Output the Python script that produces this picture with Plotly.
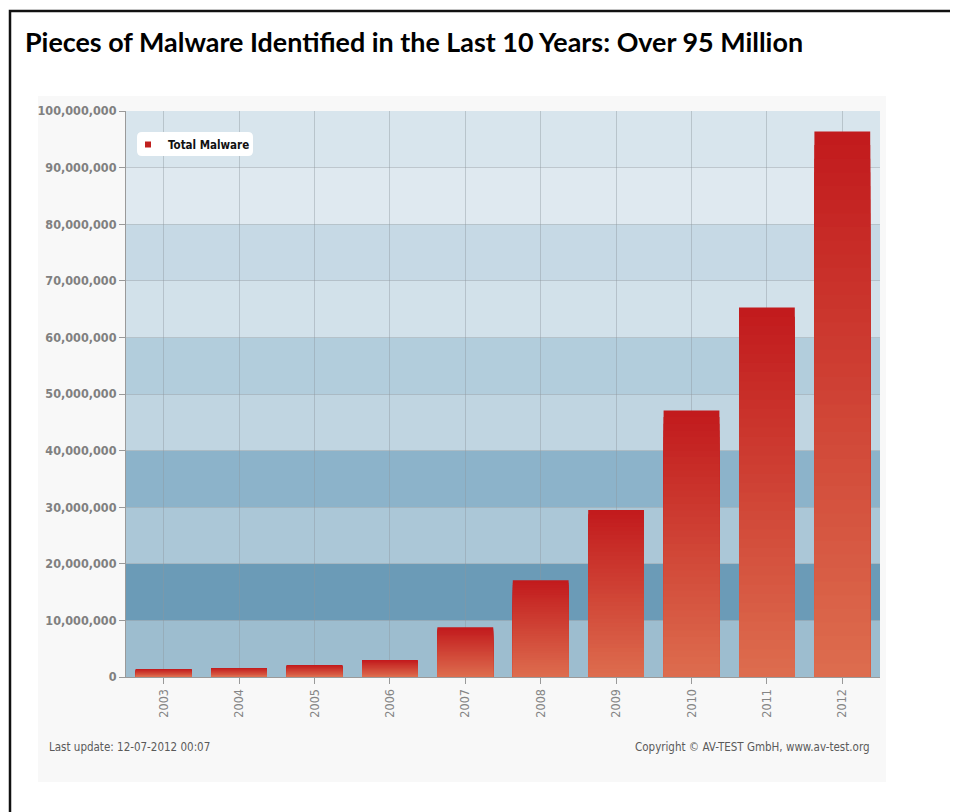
import plotly.graph_objects as go

# ---- data ----
years = ["2003", "2004", "2005", "2006", "2007", "2008", "2009", "2010", "2011", "2012"]
total_malware = [1.4e6, 1.6e6, 2.1e6, 3.0e6, 8.8e6, 17.1e6, 29.5e6, 47.1e6, 65.3e6, 96.4e6]
y_ticks = [0, 10e6, 20e6, 30e6, 40e6, 50e6, 60e6, 70e6, 80e6, 90e6, 100e6]
band_colors = ["#9dbdcf", "#6b9bb7", "#abc7d7", "#8cb3ca", "#c0d5e1",
               "#b2cddc", "#d2e1ea", "#c6d9e5", "#dfe9f0", "#d8e5ed"]

title_text = "Pieces of Malware Identified in the Last 10 Years: Over 95 Million"
legend_name = "Total Malware"
footer_left = "Last update: 12-07-2012 00:07"
footer_right = "Copyright © AV-TEST GmbH, www.av-test.org"

OFF = 8  # browser body margin
W, H = 958 - OFF, 812 - OFF
L, R, T, B = 126, 880, 111, 677   # plot area in page pixels
pw, ph = R - L, B - T


def px_x(x):
    return (x - L) / pw


def px_y(y):
    return (B - y) / ph


def lerp(c1, c2, t):
    a = [int(c1[i:i + 2], 16) for i in (1, 3, 5)]
    b = [int(c2[i:i + 2], 16) for i in (1, 3, 5)]
    return "#" + "".join("%02x" % round(a[i] + (b[i] - a[i]) * t) for i in range(3))


fig = go.Figure()

# gradient bars: overlaid layers, each a fraction of the bar height
top_col, bot_col = "#c21b1d", "#dd6c4e"
N = 40
for k in range(N):
    frac = 1 - k / N
    fig.add_trace(go.Bar(
        x=years, y=[v * frac for v in total_malware],
        width=0.74, marker=dict(color=lerp(top_col, bot_col, k / (N - 1)), line=dict(width=0)),
        showlegend=False, hoverinfo="skip"))

# legend entry
fig.add_trace(go.Scatter(
    x=[years[0]], y=[None], mode="markers", name=legend_name,
    marker=dict(symbol="square", size=6, color="#c0201e")))

shapes = []
# light chart image background
shapes.append(dict(type="rect", xref="paper", yref="paper",
                   x0=px_x(38), x1=px_x(886), y0=px_y(782), y1=px_y(96),
                   fillcolor="#f8f8f8", line=dict(width=0), layer="below"))
# background bands
for i in range(len(y_ticks) - 1):
    shapes.append(dict(type="rect", xref="paper", yref="y", x0=0, x1=1,
                       y0=y_ticks[i], y1=y_ticks[i + 1], fillcolor=band_colors[i],
                       line=dict(width=0), layer="below"))
# outer frame
shapes.append(dict(type="rect", xref="paper", yref="paper",
                   x0=px_x(10), x1=px_x(975), y0=px_y(830), y1=px_y(11),
                   fillcolor="rgba(0,0,0,0)", line=dict(color="#111111", width=2.5), layer="above"))

# rounded legend box
x0, x1, y0, y1, r = 137, 253, 132, 156, 5
path = (f"M {px_x(x0 + r)},{px_y(y0)} L {px_x(x1 - r)},{px_y(y0)} "
        f"Q {px_x(x1)},{px_y(y0)} {px_x(x1)},{px_y(y0 + r)} L {px_x(x1)},{px_y(y1 - r)} "
        f"Q {px_x(x1)},{px_y(y1)} {px_x(x1 - r)},{px_y(y1)} L {px_x(x0 + r)},{px_y(y1)} "
        f"Q {px_x(x0)},{px_y(y1)} {px_x(x0)},{px_y(y1 - r)} L {px_x(x0)},{px_y(y0 + r)} "
        f"Q {px_x(x0)},{px_y(y0)} {px_x(x0 + r)},{px_y(y0)} Z")
shapes.append(dict(type="path", xref="paper", yref="paper", path=path,
                   fillcolor="#ffffff", line=dict(width=0), layer="above"))

cond = "DejaVu Sans Condensed, Liberation Sans Narrow, sans-serif"
grid = "rgba(140,150,158,0.42)"

fig.update_layout(
    width=W, height=H,
    margin=dict(l=L - OFF, r=958 - R, t=T - OFF, b=812 - B, pad=0),
    paper_bgcolor="#ffffff", plot_bgcolor="#ffffff",
    barmode="overlay",
    shapes=shapes,
    title=dict(text="<b>" + title_text + "</b>", x=(25 - OFF) / W, xref="container", xanchor="left",
               y=1 - (43 - OFF) / H, yref="container", yanchor="middle",
               font=dict(family="Lato, Open Sans, sans-serif", size=26.9, color="#000000")),
    showlegend=True,
    legend=dict(x=px_x(128), y=px_y(130), xanchor="left", yanchor="top",
                bgcolor="rgba(0,0,0,0)", borderwidth=0,
                font=dict(family=cond, size=11.5, color="#111111", weight="bold"),
                itemwidth=30),
    xaxis=dict(range=[-0.5, 9.5], type="category", tickangle=-90,
               showgrid=True, gridcolor=grid, gridwidth=1,
               ticks="outside", ticklen=6, tickcolor="#999999",
               showline=True, linecolor="#9a9a9a", linewidth=1,
               tickfont=dict(family=cond, size=12.5, color="#858585"), fixedrange=True),
    yaxis=dict(range=[0, 100e6], tickvals=y_ticks, tickformat=",d",
               showgrid=True, gridcolor=grid, gridwidth=1,
               ticks="outside", ticklen=6, tickcolor="#999999",
               showline=True, linecolor="#9a9a9a", linewidth=1, zeroline=False,
               tickfont=dict(family=cond, size=12.5, color="#808080", weight="bold"), fixedrange=True),
    annotations=[
        dict(text=footer_left, xref="paper", yref="paper", x=px_x(47), y=px_y(747),
             xanchor="left", yanchor="middle", showarrow=False,
             font=dict(family=cond, size=11.5, color="#5a5a5a")),
        dict(text=footer_right, xref="paper", yref="paper", x=px_x(872), y=px_y(747),
             xanchor="right", yanchor="middle", showarrow=False,
             font=dict(family=cond, size=11.5, color="#5a5a5a")),
    ],
)

fig.write_html("out.html")
